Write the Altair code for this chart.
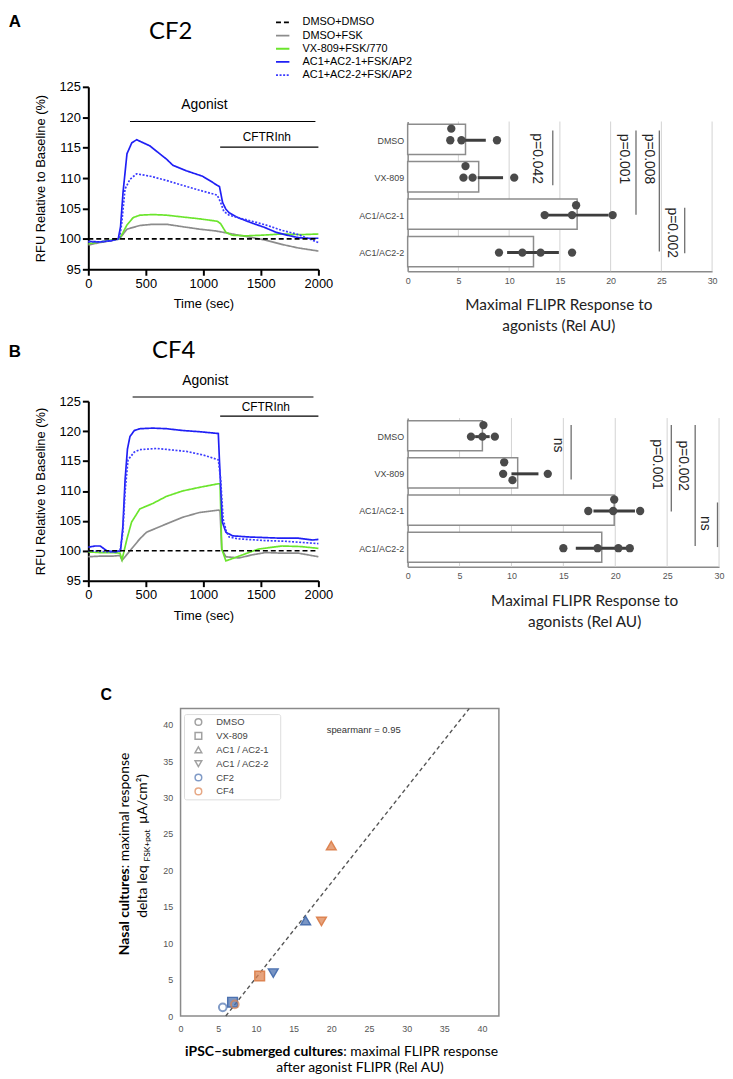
import json
import altair as alt
import pandas as pd

ARIAL = "Liberation Sans"
CAL = "Lato"

# ---------------- line panels (FLIPR traces) ----------------
SERIES = ["DMSO+DMSO", "DMSO+FSK", "VX-809+FSK/770", "AC1+AC2-1+FSK/AP2", "AC1+AC2-2+FSK/AP2"]
SERIES_COLORS = ["#000000", "#8c8c8c", "#6be52c", "#1f1ff5", "#3b3bff"]
SERIES_DASH = [[5, 3], [1, 0], [1, 0], [1, 0], [2, 1.6]]

CF2_DMSO_T = [0, 2000]
CF2_DMSO_V = [100.0, 100.0]
CF2_GRAY_T = [0, 100, 200, 270, 336, 448, 560, 680, 820, 966, 1110, 1252, 1400, 1540, 1680, 1827, 2000]
CF2_GRAY_V = [99.0, 99.4, 99.7, 100.0, 101.6, 102.2, 102.4, 102.4, 102.0, 101.6, 101.3, 100.8, 100.3, 99.8, 99.1, 98.5, 98.0]
CF2_GREEN_T = [0, 100, 200, 270, 300, 336, 390, 448, 560, 680, 820, 966, 1121, 1150, 1195, 1250, 1368, 1500, 1683, 1850, 2000]
CF2_GREEN_V = [99.2, 99.5, 99.8, 100.0, 101.0, 102.3, 103.5, 103.9, 104.0, 103.9, 103.6, 103.3, 102.9, 102.5, 101.1, 100.6, 100.5, 100.6, 100.8, 100.7, 100.8]
CF2_BLUE_T = [0, 100, 200, 260, 280, 302, 336, 378, 420, 534, 680, 735, 851, 993, 1080, 1120, 1140, 1167, 1195, 1224, 1300, 1423, 1530, 1630, 1730, 1827, 1900, 2000]
CF2_BLUE_V = [99.6, 99.5, 99.7, 100.0, 102.0, 107.7, 114.0, 115.8, 116.3, 115.3, 113.1, 112.1, 111.2, 110.3, 109.3, 108.8, 108.6, 106.0, 104.9, 104.3, 103.5, 102.6, 101.9, 101.1, 100.6, 100.2, 100.1, 100.1]
CF2_DOT_T = [0, 100, 200, 270, 290, 319, 362, 420, 540, 680, 820, 966, 1120, 1150, 1178, 1224, 1300, 1423, 1540, 1683, 1827, 1920, 2000]
CF2_DOT_V = [99.5, 99.5, 99.7, 100.0, 102.5, 108.2, 109.8, 110.7, 110.3, 109.6, 108.8, 108.0, 107.2, 106.0, 104.5, 103.9, 103.5, 102.9, 102.3, 101.4, 100.7, 100.0, 99.4]

CF4_DMSO_T = [0, 2000]
CF4_DMSO_V = [100.0, 100.0]
CF4_GRAY_T = [0, 100, 200, 275, 293, 362, 448, 506, 680, 820, 966, 1130, 1145, 1160, 1196, 1310, 1420, 1540, 1683, 1827, 2000]
CF4_GRAY_V = [99.0, 99.1, 99.1, 99.2, 98.4, 100.0, 102.0, 103.1, 104.5, 105.6, 106.4, 106.8, 106.7, 100.2, 99.0, 98.8, 99.3, 99.7, 99.6, 99.6, 99.0]
CF4_GREEN_T = [0, 100, 200, 275, 293, 336, 376, 448, 560, 680, 820, 966, 1130, 1145, 1160, 1196, 1253, 1380, 1483, 1683, 1850, 2000]
CF4_GREEN_V = [99.8, 99.7, 99.7, 99.6, 98.5, 102.0, 104.8, 107.0, 107.9, 109.1, 110.0, 110.6, 111.2, 111.2, 100.3, 98.3, 98.7, 99.6, 100.3, 100.8, 100.7, 100.4]
CF4_BLUE_T = [0, 60, 103, 160, 233, 280, 300, 320, 340, 362, 400, 448, 560, 680, 820, 966, 1130, 1140, 1165, 1196, 1253, 1400, 1540, 1683, 1827, 1950, 2000]
CF4_BLUE_V = [100.6, 100.8, 100.8, 100.0, 99.8, 100.0, 104.0, 112.0, 117.0, 119.1, 120.1, 120.4, 120.5, 120.4, 120.1, 119.9, 119.6, 115.0, 104.8, 103.1, 102.5, 102.3, 102.2, 102.1, 102.1, 101.8, 101.9]
CF4_DOT_T = [0, 100, 200, 275, 300, 320, 345, 400, 448, 594, 700, 853, 1000, 1130, 1150, 1172, 1200, 1224, 1300, 1540, 1700, 1850, 2000]
CF4_DOT_V = [100.0, 99.9, 99.8, 100.0, 103.0, 110.0, 115.2, 116.5, 116.9, 117.1, 116.9, 116.6, 116.0, 115.2, 112.0, 105.3, 103.2, 102.3, 102.0, 101.7, 101.6, 101.4, 101.2]

ANN_LABELS = ["Agonist", "CFTRInh"]
A_ANN_T = [1009, 1552]
A_ANN_V = [122.0, 116.7]
A_SPAN_T0 = [362, 1146]
A_SPAN_T1 = [1974, 2000]
A_SPAN_V = [119.3, 115.1]
B_ANN_T = [1017, 1543]
B_ANN_V = [128.3, 124.0]
B_SPAN_T0 = [385, 1146]
B_SPAN_T1 = [1957, 2000]
B_SPAN_V = [125.7, 122.5]

# ---------------- bar panels ----------------
BAR_CATS = ["DMSO", "VX-809", "AC1/AC2-1", "AC1/AC2-2"]
BAR_TICKS = [0, 5, 10, 15, 20, 25, 30]
DOT_CATS = ["DMSO"] * 4 + ["VX-809"] * 4 + ["AC1/AC2-1"] * 4 + ["AC1/AC2-2"] * 4

A_MEANS = [5.7, 7.0, 16.7, 12.4]
A_ERR_LO = [5.5, 6.9, 13.7, 9.8]
A_ERR_HI = [7.7, 9.4, 19.8, 14.9]
A_DOT_VAL = [4.3, 4.2, 5.3, 8.8, 5.7, 5.5, 6.4, 10.5, 16.6, 13.5, 16.2, 20.2, 9.0, 11.3, 13.1, 16.2]
A_DOT_LANE = [-1, 0, 0, 0, -1, 0, 0, 0, -0.85, 0, 0, 0, 0, 0, 0, 0]
A_P_LABEL = ["p=0.042", "p=0.001", "p=0.008", "p=0.002"]
A_P_X = [14.3, 22.5, 24.8, 27.3]
A_P_Y0 = [0.24, 0.24, 0.24, 2.3]
A_P_Y1 = [1.70, 2.49, 3.47, 3.52]
A_P_TX = [12.7, 21.3, 23.8, 26.0]
A_P_TY = [0.99, 1.0, 1.0, 2.97]

B_MEANS = [7.2, 10.6, 19.9, 18.7]
B_ERR_LO = [6.5, 10.0, 17.9, 16.2]
B_ERR_HI = [7.9, 12.6, 21.9, 21.1]
B_DOT_VAL = [7.3, 6.1, 7.2, 8.4, 9.3, 9.2, 13.5, 10.1, 19.9, 17.4, 19.8, 22.4, 15.0, 18.3, 20.3, 21.4]
B_DOT_LANE = [-1, 0, 0, 0, -1, 0, 0, 0.55, -1, 0, 0, 0, 0, 0, 0, 0]
B_P_LABEL = ["ns", "p=0.001", "p=0.002", "ns"]
B_P_X = [15.75, 25.4, 27.7, 29.85]
B_P_Y0 = [0.19, 0.19, 0.19, 2.27]
B_P_Y1 = [1.65, 2.51, 3.44, 3.47]
B_P_TX = [14.5, 24.0, 26.5, 28.6]
B_P_TY = [0.73, 1.25, 1.28, 2.83]

# ---------------- scatter panel ----------------
SC_TREATS = ["DMSO", "VX-809", "AC1 / AC2-1", "AC1 / AC2-2"]
SC_SHAPES = ["circle", "square", "triangle-up", "triangle-down"]
SC_LINES = ["CF2", "CF4"]
SC_COLORS = ["#4C72B0", "#DD8452"]
SC_TREAT = SC_TREATS + SC_TREATS
SC_LINE = ["CF2"] * 4 + ["CF4"] * 4
SC_X = [5.6, 6.9, 16.6, 12.3, 7.2, 10.5, 20.0, 18.7]
SC_Y = [1.2, 1.9, 13.1, 5.9, 1.6, 5.5, 23.4, 13.0]
FIT_X = [6.0, 38.3]
FIT_Y = [0.0, 42.2]
LEG_C_LABELS = ["DMSO", "VX-809", "AC1 / AC2-1", "AC1 / AC2-2", "CF2", "CF4"]
LEG_C_SHAPES = ["circle", "square", "triangle-up", "triangle-down", "circle", "circle"]
LEG_C_COLORS = ["#7a7a7a", "#7a7a7a", "#7a7a7a", "#7a7a7a", "#4C72B0", "#DD8452"]

C_DY = 5  # vertical nudge of panel C inside its cell (pixels)


def long_df(pairs):
    rows = []
    for name, ts, vs in pairs:
        for t, v in zip(ts, vs):
            rows.append({"series": name, "t": t, "v": v})
    return pd.DataFrame(rows)


def label_chart(text, x, y, font, size, weight="normal", align="center", angle=0, color="black", baseline="middle"):
    return alt.Chart(pd.DataFrame({"label": [text]})).mark_text(
        font=font, fontSize=size, fontWeight=weight, align=align, baseline=baseline,
        angle=angle, color=color
    ).encode(text="label:N", x=alt.value(x), y=alt.value(y))


def line_panel(df, ann_t, ann_v, span_t0, span_t1, span_v, letter, name, show_legend, height, letter_y, name_x, name_y):
    xs = alt.Scale(domain=[0, 2000], nice=False, zero=False)
    ys = alt.Scale(domain=[95, 125], nice=False, zero=False)
    common = dict(grid=False, domainColor="black", domainWidth=2, tickColor="black", tickWidth=2,
                  tickSize=6, labelFont=ARIAL, labelFontSize=13, labelColor="black", labelPadding=2,
                  titleFont=ARIAL, titleFontSize=13, titleFontWeight="normal", titleColor="black",
                  labelFlush=False, format="d")
    x_axis = alt.Axis(values=[0, 500, 1000, 1500, 2000], title="Time (sec)", titlePadding=8, **common)
    y_axis = alt.Axis(values=[95, 100, 105, 110, 115, 120, 125], title="RFU Relative to Baseline (%)",
                      titlePadding=11, **common)
    cscale = alt.Scale(domain=SERIES, range=SERIES_COLORS)
    dscale = alt.Scale(domain=SERIES, range=SERIES_DASH)
    if show_legend:
        leg = alt.Legend(orient="none", legendX=188, legendY=-73, title=None, labelFont=ARIAL,
                         labelFontSize=11, labelFontWeight="normal", labelColor="black",
                         symbolType="stroke", symbolSize=182, symbolStrokeWidth=1.8, rowPadding=0.3,
                         labelOffset=12, padding=0)
    else:
        leg = None
    enc = dict(
        x=alt.X("t:Q", scale=xs, axis=x_axis),
        y=alt.Y("v:Q", scale=ys, axis=y_axis),
        color=alt.Color("series:N", scale=cscale, legend=leg),
        strokeDash=alt.StrokeDash("series:N", scale=dscale, legend=leg),
    )
    base = alt.Chart(df)
    lines = base.transform_filter(alt.datum.series != SERIES[0]).mark_line(strokeWidth=1.7).encode(**enc)
    dashed = base.transform_filter(alt.datum.series == SERIES[0]).mark_line(strokeWidth=1.6).encode(**enc)

    ann_df = pd.DataFrame({"label": ANN_LABELS, "t": ann_t, "v": ann_v})
    span_df = pd.DataFrame({"t0": span_t0, "t1": span_t1, "v": span_v})
    spans = alt.Chart(span_df).mark_rule(color="black", strokeWidth=1.2).encode(
        x=alt.X("t0:Q", scale=xs, axis=x_axis), x2="t1:Q", y=alt.Y("v:Q", scale=ys, axis=y_axis))
    t_ag = alt.Chart(ann_df).transform_filter(alt.datum.label == ANN_LABELS[0]).mark_text(
        font=ARIAL, fontSize=14, color="black", baseline="middle").encode(
        x=alt.X("t:Q", scale=xs, axis=x_axis), y=alt.Y("v:Q", scale=ys, axis=y_axis), text="label:N")
    t_inh = alt.Chart(ann_df).transform_filter(alt.datum.label == ANN_LABELS[1]).mark_text(
        font=ARIAL, fontSize=12, color="black", baseline="middle").encode(
        x=alt.X("t:Q", scale=xs, axis=x_axis), y=alt.Y("v:Q", scale=ys, axis=y_axis), text="label:N")

    letter_mark = label_chart(letter, -74, letter_y, ARIAL, 17, weight="bold")
    name_mark = label_chart(name, name_x, name_y, CAL, 24)
    return alt.layer(lines, dashed, spans, t_ag, t_inh, letter_mark, name_mark).properties(
        width=232, height=height)


def bar_panel(means, err_lo, err_hi, dot_val, dot_lane, p_lab, p_x, p_y0, p_y1, p_tx, p_ty,
              width, height, y_range, title_x):
    cats_js = json.dumps(BAR_CATS)
    idx = f"indexof({cats_js}, datum.cat)"
    xs = alt.Scale(domain=[0, 30], nice=False, zero=False)
    ys = alt.Scale(domain=[0, 4], range=y_range, nice=False, zero=False)
    x_axis = alt.Axis(values=BAR_TICKS, grid=False,
                      ticks=False, domainColor="#8a8a8a", domainWidth=1.5, labelFont=ARIAL,
                      labelFontSize=9, labelColor="#555555", labelPadding=5, labelFlush=False,
                      title=["Maximal FLIPR Response to", "agonists (Rel AU)"], titleFont=CAL,
                      titleFontSize=15.5, titleFontWeight="normal", titleColor="#222222",
                      titlePadding=13, titleLineHeight=21, titleX=title_x)
    y_axis = alt.Axis(values=[0.5, 1.5, 2.5, 3.5], labelExpr=f"{cats_js}[floor(datum.value)]",
                      ticks=False, grid=False, domainColor="#8a8a8a", domainWidth=1.5,
                      labelFont=ARIAL, labelFontSize=9, labelColor="#444444", labelPadding=4,
                      title=None)
    grid_df = pd.DataFrame({"gx": BAR_TICKS[1:]})
    grid = alt.Chart(grid_df).transform_calculate(g0="0", g1="4").mark_rule(
        color="#d2d2d2", strokeWidth=1).encode(
        x=alt.X("gx:Q", scale=xs, axis=x_axis), y=alt.Y("g0:Q", scale=ys, axis=y_axis), y2="g1:Q")
    bar_df = pd.DataFrame({"cat": BAR_CATS, "mean": means, "lo": err_lo, "hi": err_hi})
    bars = alt.Chart(bar_df).transform_calculate(
        x0="0", y0=f"{idx} + 0.07", y1=f"{idx} + 0.88"
    ).mark_rect(fill="white", stroke="#8c8c8c", strokeWidth=1.5).encode(
        x=alt.X("x0:Q", scale=xs, axis=x_axis), x2="mean:Q",
        y=alt.Y("y0:Q", scale=ys, axis=y_axis), y2="y1:Q")
    errs = alt.Chart(bar_df).transform_calculate(yc=f"{idx} + 0.5").mark_rule(
        color="#3d3d3d", strokeWidth=3).encode(
        x=alt.X("lo:Q", scale=xs, axis=x_axis), x2="hi:Q", y=alt.Y("yc:Q", scale=ys, axis=y_axis))
    dot_df = pd.DataFrame({"cat": DOT_CATS, "val": dot_val, "lane": dot_lane})
    dots = alt.Chart(dot_df).transform_calculate(yd=f"{idx} + 0.5 + datum.lane * 0.31").mark_circle(
        size=70, color="#4a4a4a", opacity=1).encode(
        x=alt.X("val:Q", scale=xs, axis=x_axis), y=alt.Y("yd:Q", scale=ys, axis=y_axis))
    p_df = pd.DataFrame({"label": p_lab, "px": p_x, "py0": p_y0, "py1": p_y1, "tx": p_tx, "ty": p_ty})
    p_rules = alt.Chart(p_df).mark_rule(color="#6e6e6e", strokeWidth=1.3).encode(
        x=alt.X("px:Q", scale=xs, axis=x_axis), y=alt.Y("py0:Q", scale=ys, axis=y_axis), y2="py1:Q")
    p_text = alt.Chart(p_df).mark_text(angle=90, font=ARIAL, fontSize=14, color="#222222",
                                       align="center", baseline="middle").encode(
        x=alt.X("tx:Q", scale=xs, axis=x_axis), y=alt.Y("ty:Q", scale=ys, axis=y_axis), text="label:N")
    return alt.layer(grid, bars, p_rules, errs, dots, p_text).properties(width=width, height=height)


def scatter_panel():
    d = C_DY
    xs = alt.Scale(domain=[0, 42.24], range=[93, 414], nice=False, zero=False)
    ys = alt.Scale(domain=[0, 42.2], range=[303 + d, -7 + d], nice=False, zero=False)
    x_axis = alt.Axis(values=list(range(0, 41, 5)), ticks=False, domain=False, grid=False,
                      labelFont=ARIAL, labelFontSize=9, labelColor="#555555", labelPadding=9 + d,
                      labelFlush=False, title=None)
    y_axis = alt.Axis(values=list(range(0, 41, 5)), offset=-93, ticks=False, domain=False, grid=False,
                      labelFont=ARIAL, labelFontSize=9, labelColor="#555555", labelPadding=8,
                      labelFlush=False, title=None)
    one = pd.DataFrame({"k": [0]})
    frame = alt.Chart(one).mark_rect(fillOpacity=0, stroke="#8a8a8a", strokeWidth=1.5).encode(
        x=alt.value(93), x2=alt.value(414), y=alt.value(-7 + d), y2=alt.value(303 + d))
    fit = alt.Chart(pd.DataFrame({"fx": FIT_X, "fy": FIT_Y})).mark_line(
        color="#555555", strokeDash=[4, 3], strokeWidth=1.4).encode(
        x=alt.X("fx:Q", scale=xs, axis=x_axis), y=alt.Y("fy:Q", scale=ys, axis=y_axis))
    sc_df = pd.DataFrame({"treat": SC_TREAT, "line": SC_LINE, "sx": SC_X, "sy": SC_Y})
    shape_scale = alt.Scale(domain=SC_TREATS, range=SC_SHAPES)
    col_scale = alt.Scale(domain=SC_LINES, range=SC_COLORS)
    circles = alt.Chart(sc_df).transform_filter(alt.datum.treat == SC_TREATS[0]).mark_point(
        filled=False, size=60, strokeWidth=2).encode(
        x=alt.X("sx:Q", scale=xs, axis=x_axis), y=alt.Y("sy:Q", scale=ys, axis=y_axis),
        shape=alt.Shape("treat:N", scale=shape_scale, legend=None),
        color=alt.Color("line:N", scale=col_scale, legend=None))
    others = alt.Chart(sc_df).transform_filter(alt.datum.treat != SC_TREATS[0]).mark_point(
        filled=True, size=95, fillOpacity=0.75, strokeWidth=1.5).encode(
        x=alt.X("sx:Q", scale=xs, axis=x_axis), y=alt.Y("sy:Q", scale=ys, axis=y_axis),
        shape=alt.Shape("treat:N", scale=shape_scale, legend=None),
        color=alt.Color("line:N", scale=col_scale, legend=None),
        stroke=alt.Stroke("line:N", scale=col_scale, legend=None))
    spear = alt.Chart(pd.DataFrame({"label": ["spearmanr = 0.95"], "lx": [24.3], "ly": [39.3]})).mark_text(
        font=ARIAL, fontSize=9.5, color="#333333").encode(
        x=alt.X("lx:Q", scale=xs, axis=x_axis), y=alt.Y("ly:Q", scale=ys, axis=y_axis), text="label:N")

    leg_df = pd.DataFrame({"i": list(range(len(LEG_C_LABELS))), "label": LEG_C_LABELS,
                           "shape": LEG_C_SHAPES, "color": LEG_C_COLORS})
    leg_box = alt.Chart(one).mark_rect(fill="white", stroke="#dddddd", strokeWidth=1, cornerRadius=2).encode(
        x=alt.value(97), x2=alt.value(194), y=alt.value(-1 + d), y2=alt.value(85 + d))
    leg_sym = alt.Chart(leg_df).transform_calculate(ly=f"{6.5 + d} + 14 * datum.i").mark_point(
        filled=False, size=45, strokeWidth=1.5).encode(
        x=alt.value(111), y=alt.Y("ly:Q", scale=None),
        shape=alt.Shape("shape:N", scale=None, legend=None),
        color=alt.Color("color:N", scale=None, legend=None))
    leg_txt = alt.Chart(leg_df).transform_calculate(ly=f"{6.5 + d} + 14 * datum.i").mark_text(
        font=ARIAL, fontSize=9.5, color="#444444", align="left", baseline="middle").encode(
        x=alt.value(129), y=alt.Y("ly:Q", scale=None), text="label:N")

    letter = label_chart("C", 18, -21 + d, ARIAL, 16, weight="bold")
    yt1a = label_chart("Nasal cultures", 37, 154 + d, CAL, 14, weight="bold", align="right", angle=270)
    yt1b = label_chart(": maximal response", 37, 154 + d, CAL, 14, align="left", angle=270)
    yt2a = label_chart("delta Ieq", 55, 151 + d, CAL, 14, align="right", angle=270)
    yt2b = label_chart("FSK+pot", 59, 131 + d, CAL, 8.5, align="center", angle=270)
    yt2c = label_chart("μA/cm²)", 55, 109 + d, CAL, 14, align="left", angle=270)
    xt1a = label_chart("iPSC\u2013submerged cultures", 257, 339 + d, CAL, 14, weight="bold", align="right")
    xt1b = label_chart(": maximal FLIPR response", 257, 339 + d, CAL, 14, align="left")
    xt2 = label_chart("after agonist FLIPR (Rel AU)", 274, 355 + d, CAL, 14, align="center")

    return alt.layer(frame, leg_box, fit, others, circles, spear, leg_sym, leg_txt, letter,
                     yt1a, yt1b, yt2a, yt2b, yt2c, xt1a, xt1b, xt2).properties(width=232, height=303)


cf2_df = long_df([
    (SERIES[0], CF2_DMSO_T, CF2_DMSO_V), (SERIES[1], CF2_GRAY_T, CF2_GRAY_V),
    (SERIES[2], CF2_GREEN_T, CF2_GREEN_V), (SERIES[3], CF2_BLUE_T, CF2_BLUE_V),
    (SERIES[4], CF2_DOT_T, CF2_DOT_V)])
cf4_df = long_df([
    (SERIES[0], CF4_DMSO_T, CF4_DMSO_V), (SERIES[1], CF4_GRAY_T, CF4_GRAY_V),
    (SERIES[2], CF4_GREEN_T, CF4_GREEN_V), (SERIES[3], CF4_BLUE_T, CF4_BLUE_V),
    (SERIES[4], CF4_DOT_T, CF4_DOT_V)])

a_line = line_panel(cf2_df, A_ANN_T, A_ANN_V, A_SPAN_T0, A_SPAN_T1, A_SPAN_V, "A", "CF2", True, 184,
                    -65.5, 83, -55)
b_line = line_panel(cf4_df, B_ANN_T, B_ANN_V, B_SPAN_T0, B_SPAN_T1, B_SPAN_V, "B", "CF4", False, 181,
                    -49.5, 86, -51)
a_bar = bar_panel(A_MEANS, A_ERR_LO, A_ERR_HI, A_DOT_VAL, A_DOT_LANE, A_P_LABEL, A_P_X, A_P_Y0, A_P_Y1,
                  A_P_TX, A_P_TY, 307, 186, [35, 186], 152)
b_bar = bar_panel(B_MEANS, B_ERR_LO, B_ERR_HI, B_DOT_VAL, B_DOT_LANE, B_P_LABEL, B_P_X, B_P_Y0, B_P_Y1,
                  B_P_TX, B_P_TY, 314, 167, [17, 167], 178)
c_sc = scatter_panel()

chart = alt.concat(
    a_line, a_bar, b_line, b_bar, c_sc,
    columns=2, spacing={"row": 131, "column": 90}, bounds="flush"
).resolve_scale(
    color="independent", strokeDash="independent", shape="independent", stroke="independent"
).resolve_legend(
    color="independent", strokeDash="independent", shape="independent", stroke="independent"
).properties(padding=0).configure_view(strokeWidth=0)

chart.save("out.html", embed_options={"renderer": "svg", "actions": False})
